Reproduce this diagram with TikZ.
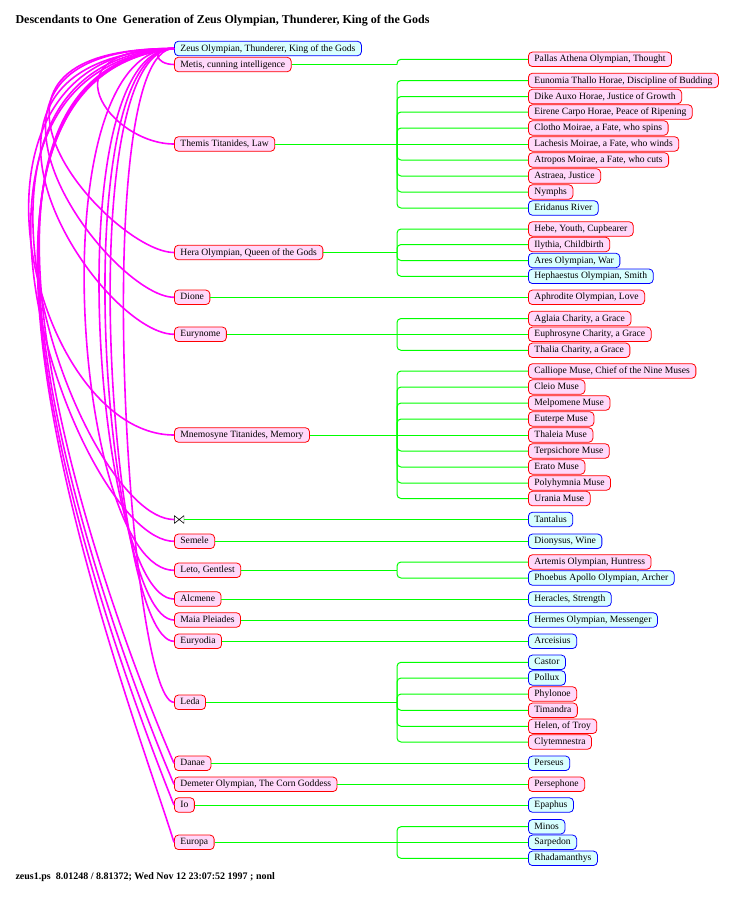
\documentclass[tikz,border=0pt]{standalone}
\usepackage{fontspec}
\setmainfont{Liberation Serif}
\definecolor{femfill}{RGB}{255,216,250}
\definecolor{malefill}{RGB}{216,255,255}
\definecolor{kingreen}{RGB}{0,255,0}
\definecolor{siremag}{RGB}{255,0,255}
\begin{document}
\begin{tikzpicture}[x=1pt,y=-1pt,
	god/.style={rounded corners=4pt,anchor=west,inner xsep=6pt,inner ysep=0pt,minimum height=14.5pt,
		text height=7pt,text depth=2pt,line width=0.8pt,font=\fontsize{9.6}{11}\selectfont},
	fem/.style={god,draw=red,fill=femfill},
	male/.style={god,draw=blue,fill=malefill},
	kin/.style={color=kingreen,line width=1pt},
	sire/.style={color=siremag,line width=1.6pt}]
	\useasboundingbox (0,0) rectangle (740,905);
	\node[anchor=west,font=\bfseries\fontsize{12}{14}\selectfont] (title) at (12,21) {Descendants to One\ \ Generation of Zeus Olympian, Thunderer, King of the Gods};
	\node[anchor=west,font=\bfseries\fontsize{10}{12}\selectfont] (stamp) at (12,877) {zeus1.ps\ \ 8.01248 / 8.81372; Wed Nov 12 23:07:52 1997 ; nonl};
	\coordinate (jx) at (397,0);
	% parents
	\node[male] (zeus) at (174,48.5) {Zeus Olympian, Thunderer, King of the Gods};
	\node[fem] (metis) at (174,64.5) {Metis, cunning intelligence};
	\node[fem] (themis) at (174,144) {Themis Titanides, Law};
	\node[fem] (hera) at (174,252.5) {Hera Olympian, Queen of the Gods};
	\node[fem] (dione) at (174,297.3) {Dione};
	\node[fem] (eurynome) at (174,334.3) {Eurynome};
	\node[fem] (mnemosyne) at (174,435) {Mnemosyne Titanides, Memory};
	\node[minimum width=10pt,minimum height=8pt,inner sep=0pt,anchor=west,
		path picture={\draw[line width=0.6pt] (path picture bounding box.north west) -- (path picture bounding box.south west)
			(path picture bounding box.north east) -- (path picture bounding box.south east)
			(path picture bounding box.north west) -- (path picture bounding box.south east)
			(path picture bounding box.south west) -- (path picture bounding box.north east);}] (unk) at (174,519.5) {};
	\node[fem] (semele) at (174,541.3) {Semele};
	\node[fem] (leto) at (174,570.3) {Leto, Gentlest};
	\node[fem] (alcmene) at (174,599) {Alcmene};
	\node[fem] (maia) at (174,620) {Maia Pleiades};
	\node[fem] (euryodia) at (174,641.3) {Euryodia};
	\node[fem] (leda) at (174,702.3) {Leda};
	\node[fem] (danae) at (174,763.3) {Danae};
	\node[fem] (demeter) at (174,784.3) {Demeter Olympian, The Corn Goddess};
	\node[fem] (io) at (174,805) {Io};
	\node[fem] (europa) at (174,842.3) {Europa};
	% children
	\node[fem] (pallas) at (528,59.3) {Pallas Athena Olympian, Thought};
	\node[fem] (eunomia) at (528,80.5) {Eunomia Thallo Horae, Discipline of Budding};
	\node[fem] (dike) at (528,96.5) {Dike Auxo Horae, Justice of Growth};
	\node[fem] (eirene) at (528,112) {Eirene Carpo Horae, Peace of Ripening};
	\node[fem] (clotho) at (528,128) {Clotho Moirae, a Fate, who spins};
	\node[fem] (lachesis) at (528,144) {Lachesis Moirae, a Fate, who winds};
	\node[fem] (atropos) at (528,160) {Atropos Moirae, a Fate, who cuts};
	\node[fem] (astraea) at (528,176) {Astraea, Justice};
	\node[fem] (nymphs) at (528,192) {Nymphs};
	\node[male] (eridanus) at (528,208) {Eridanus River};
	\node[fem] (hebe) at (528,229) {Hebe, Youth, Cupbearer};
	\node[fem] (ilythia) at (528,244.5) {Ilythia, Childbirth};
	\node[male] (ares) at (528,260.5) {Ares Olympian, War};
	\node[male] (hephaestus) at (528,276.3) {Hephaestus Olympian, Smith};
	\node[fem] (aphrodite) at (528,297.3) {Aphrodite Olympian, Love};
	\node[fem] (aglaia) at (528,318.5) {Aglaia Charity, a Grace};
	\node[fem] (euphrosyne) at (528,334.3) {Euphrosyne Charity, a Grace};
	\node[fem] (thalia) at (528,350.3) {Thalia Charity, a Grace};
	\node[fem] (calliope) at (528,371) {Calliope Muse, Chief of the Nine Muses};
	\node[fem] (cleio) at (528,387) {Cleio Muse};
	\node[fem] (melpomene) at (528,403) {Melpomene Muse};
	\node[fem] (euterpe) at (528,419) {Euterpe Muse};
	\node[fem] (thaleia) at (528,435) {Thaleia Muse};
	\node[fem] (terpsichore) at (528,451) {Terpsichore Muse};
	\node[fem] (erato) at (528,467) {Erato Muse};
	\node[fem] (polyhymnia) at (528,483) {Polyhymnia Muse};
	\node[fem] (urania) at (528,498.5) {Urania Muse};
	\node[male] (tantalus) at (528,519.5) {Tantalus};
	\node[male] (dionysus) at (528,541.3) {Dionysus, Wine};
	\node[fem] (artemis) at (528,562) {Artemis Olympian, Huntress};
	\node[male] (phoebus) at (528,578) {Phoebus Apollo Olympian, Archer};
	\node[male] (heracles) at (528,599) {Heracles, Strength};
	\node[male] (hermes) at (528,620) {Hermes Olympian, Messenger};
	\node[male] (arceisius) at (528,641.3) {Arceisius};
	\node[male] (castor) at (528,662.3) {Castor};
	\node[male] (pollux) at (528,678) {Pollux};
	\node[fem] (phylonoe) at (528,694) {Phylonoe};
	\node[fem] (timandra) at (528,710.3) {Timandra};
	\node[fem] (helen) at (528,726.3) {Helen, of Troy};
	\node[fem] (clytemnestra) at (528,742) {Clytemnestra};
	\node[male] (perseus) at (528,763.3) {Perseus};
	\node[fem] (persephone) at (528,784.3) {Persephone};
	\node[male] (epaphus) at (528,805) {Epaphus};
	\node[male] (minos) at (528,826.7) {Minos};
	\node[male] (sarpedon) at (528,842.3) {Sarpedon};
	\node[male] (rhadamanthys) at (528,858.3) {Rhadamanthys};
	% Zeus to the mothers (control points)
	\foreach \m/\ax/\ay/\bx/\by in {metis/150/48/155/64.5,themis/40/48/110/144,hera/-73/48/112/252.5,
		dione/-80/48/110/297.3,eurynome/-85/60/100/334.3,mnemosyne/-64/48/30/435,
		unk/-90/60/80/519.5,semele/-95/70/80/541.3,leto/35/48/75/570.3,alcmene/55/48/95/599,
		maia/63/48/103/620,euryodia/70/48/110/641.3,leda/88/48/128/702.3,
		danae/-100/70/120/640,demeter/-105/75/125/670,io/-108/78/128/690,europa/-110/80/130/700}
		\draw[sire] (zeus.west) .. controls (\ax,\ay) and (\bx,\by) .. (\m.west);
	% mothers to the children
	\foreach \m/\c in {themis/lachesis,dione/aphrodite,eurynome/euphrosyne,mnemosyne/thaleia,
		unk/tantalus,semele/dionysus,alcmene/heracles,maia/hermes,euryodia/arceisius,
		danae/perseus,demeter/persephone,io/epaphus,europa/sarpedon}
		\draw[kin] (\m.east) -- (\c.west);
	\foreach \m in {metis,hera,leto,leda}
		\draw[kin] (\m.east) -- (jx |- \m.east);
	\foreach \m/\cs in {metis/{pallas},
		themis/{eunomia,dike,eirene,clotho,atropos,astraea,nymphs,eridanus},
		hera/{hebe,ilythia,ares,hephaestus},eurynome/{aglaia,thalia},
		mnemosyne/{calliope,cleio,melpomene,euterpe,terpsichore,erato,polyhymnia,urania},
		leto/{artemis,phoebus},leda/{castor,pollux,phylonoe,timandra,helen,clytemnestra},
		europa/{minos,rhadamanthys}}
		\foreach \c in \cs
			\draw[kin,rounded corners=4pt] (jx |- \m.east) |- (\c.west);
\end{tikzpicture}
\end{document}
